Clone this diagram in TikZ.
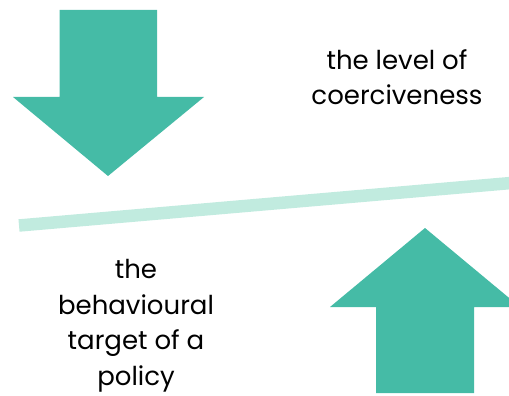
\documentclass[tikz,border=0pt]{standalone}
\usepackage{fontspec}
\setmainfont{Poppins}
\definecolor{arrowteal}{HTML}{45BBA6}
\definecolor{lineteal}{HTML}{C1EBDF}
\tikzset{
  bigarrow/.style={fill=arrowteal, draw=none},
  label/.style={align=center, font=\fontsize{26}{35.5}\selectfont, inner sep=0pt}
}
\begin{document}
\begin{tikzpicture}[x=1pt, y=-1pt]
  \useasboundingbox (0,0) rectangle (509,396); % page frame
  \fill [bigarrow] (59.5,10) -- (157,10) -- (157,97) -- (204,97) -- (108,176) -- (13,97) -- (59.5,97) -- cycle; % down arrow
  \fill [bigarrow] (376,393) -- (474,393) -- (474,307) -- (520,307) -- (425,228) -- (330,307) -- (376,307) -- cycle; % up arrow
  \coordinate (L) at (19,225.5); % left end of beam
  \coordinate (R) at (540,180.5); % right end of beam
  \draw [lineteal, line width=12.5pt] (L) -- (R); % balance beam
  \node [label] (coerc) at (397,77) {the level of\\coerciveness}; % top text
  \node [label] (target) at (136,326) {the\\behavioural\\target of a\\policy}; % bottom text
\end{tikzpicture}
\end{document}
